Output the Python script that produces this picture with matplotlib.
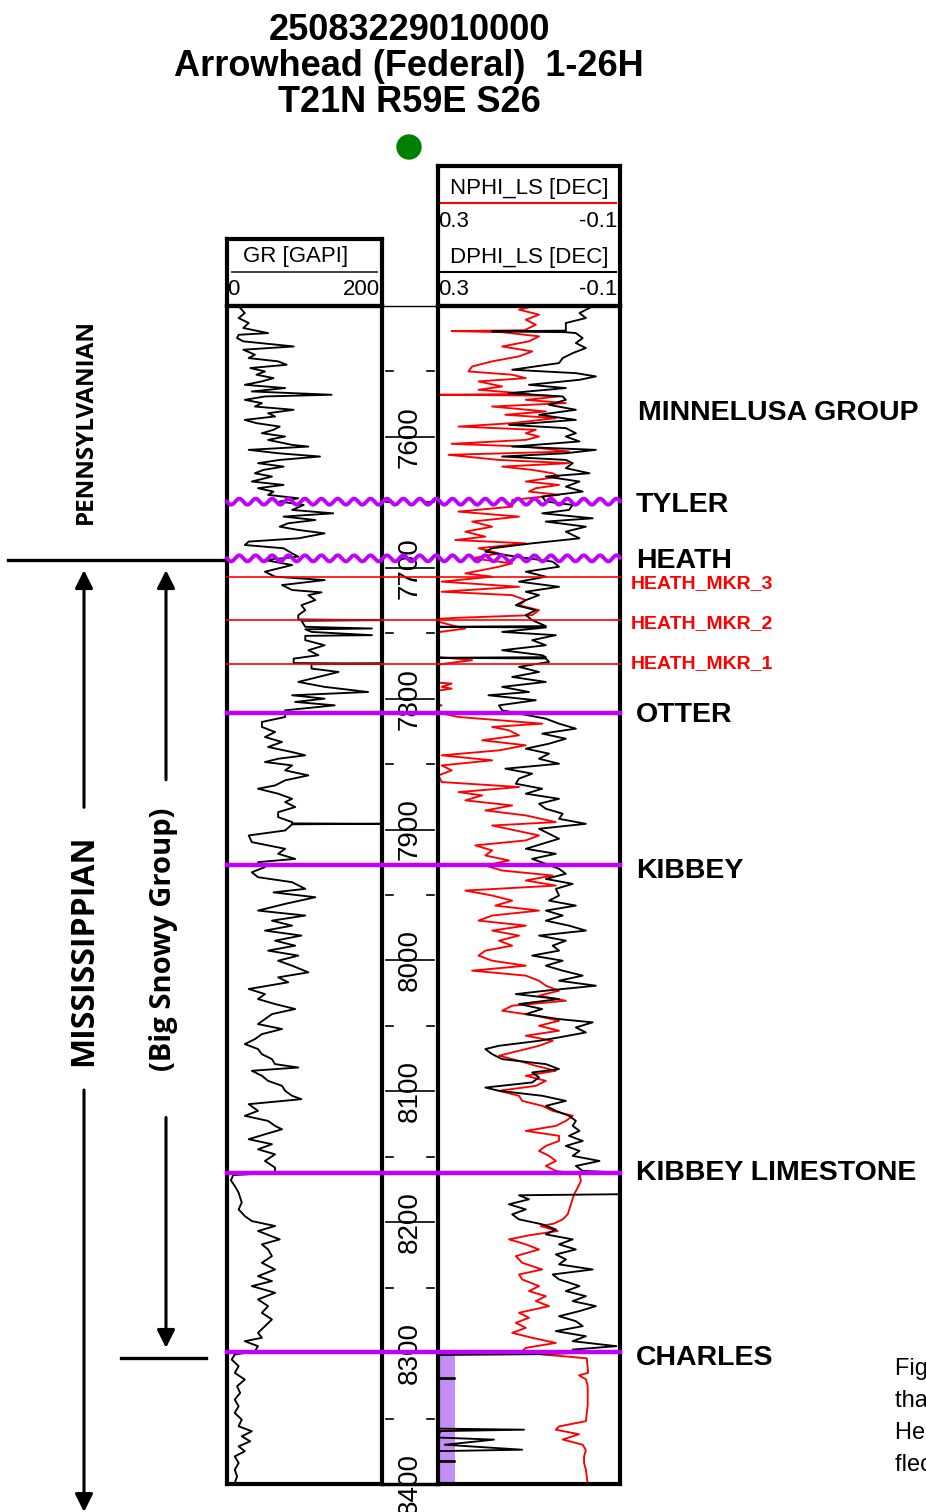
import numpy as np
import matplotlib
matplotlib.use("Agg")
import matplotlib.pyplot as plt
from matplotlib.patches import Ellipse

plt.rcParams['font.family'] = ['Liberation Sans', 'DejaVu Sans']

W, H = 926, 1512  # figure size in pixels

# well header
API_NO = "25083229010000"
WELL_NAME = "Arrowhead (Federal)  1-26H"
LOCATION = "T21N R59E S26"

TOP_DEPTH, BASE_DEPTH = 7500, 8400
GR_SCALE = (0, 200)
PHI_SCALE = (0.3, -0.1)

# formation tops (ft MD)
TOP_NAMES = ["TYLER", "HEATH", "HEATH_MKR_3", "HEATH_MKR_2", "HEATH_MKR_1",
             "OTTER", "KIBBEY", "KIBBEY LIMESTONE", "CHARLES"]
TOP_DEPTHS = [7649.5, 7692.8, 7706.8, 7740.0, 7773.5, 7810.7, 7927.3, 8162.6, 8299.0]
TOP_KIND = ["unconf", "unconf", "marker", "marker", "marker", "top", "top", "top", "top"]
ZONE_LABEL = ("MINNELUSA GROUP", 7582)

# gamma ray (depth ft, API)
GR_LOG = [
    (7501.5, 17), (7505.4, 23), (7509.2, 15), (7513, 28), (7516.8, 21), (7520.7, 53), (7522, 15),
    (7524.5, 13), (7527, 21), (7530.9, 86), (7533.4, 21), (7537.2, 36), (7539.8, 28), (7542.3, 66),
    (7544.9, 77), (7547.4, 30), (7550, 49), (7552.5, 38), (7555.1, 60), (7557.6, 45), (7560.2, 23),
    (7562.7, 75), (7565.3, 32), (7567.8, 135), (7569.1, 49), (7571.7, 23), (7574.2, 45), (7576.8, 36),
    (7579.3, 86), (7581.9, 53), (7584.4, 62), (7587, 23), (7589.5, 38), (7592.1, 68), (7594.6, 60),
    (7597.2, 45), (7599.7, 75), (7602.3, 53), (7606.1, 84), (7607.4, 105), (7609.9, 28), (7612.5, 66),
    (7615, 120), (7617.6, 68), (7620.1, 40), (7622.7, 73), (7625.2, 47), (7627.8, 36), (7630.3, 58),
    (7634.1, 32), (7636.7, 73), (7639.2, 40), (7641.8, 60), (7644.3, 53), (7646.9, 92), (7649.4, 68),
    (7652, 99), (7655.8, 84), (7658.4, 137), (7660.9, 73), (7663.5, 114), (7666, 79), (7668.6, 68),
    (7671.1, 92), (7673.7, 126), (7677.5, 92), (7680, 28), (7682.6, 23), (7685.1, 73), (7689, 84),
    (7691.5, 92), (7694.1, 49), (7697.9, 84), (7703, 49), (7706.8, 62), (7709.4, 126), (7713.2, 71),
    (7717, 84), (7718.8, 122), (7720.9, 105), (7724.7, 114), (7728.6, 96), (7732.4, 101), (7736.2, 92),
    (7739.5, 92), (7740, 197), (7740.5, 96), (7745.1, 101), (7746.4, 187), (7747, 101), (7749, 109),
    (7751.5, 187), (7752, 101), (7755.3, 101), (7759.2, 126), (7763, 105), (7766.8, 118), (7769.4, 86),
    (7772.8, 86), (7773.2, 197), (7773.7, 109), (7777, 109), (7779.6, 144), (7783.4, 118), (7787.2, 92),
    (7791, 126), (7794.9, 182), (7797.4, 84), (7800, 126), (7802.5, 88), (7805.1, 139), (7808.9, 75),
    (7814, 75), (7817.8, 45), (7821.6, 45), (7825.5, 62), (7829.3, 49), (7833.1, 71), (7836.9, 53),
    (7840.8, 84), (7843.3, 101), (7845.9, 66), (7848.4, 49), (7851, 84), (7854.8, 75), (7858.6, 105),
    (7862.4, 75), (7866.3, 62), (7868.8, 40), (7872.6, 66), (7876.5, 84), (7879, 75), (7882.8, 88),
    (7886.7, 66), (7890.5, 66), (7894.3, 84), (7895.3, 84), (7895.6, 197), (7896, 84), (7900.7, 75),
    (7904.5, 28), (7909.6, 32), (7914.7, 75), (7918.5, 66), (7922.4, 88), (7924.9, 40), (7928.7, 49),
    (7932.6, 32), (7936.4, 40), (7940.2, 84), (7945.3, 101), (7948, 60), (7951.7, 114), (7956.8, 75),
    (7961.9, 40), (7965.7, 101), (7969.6, 58), (7973.4, 84), (7977.2, 49), (7981, 96), (7984.9, 62),
    (7988.7, 88), (7992.5, 53), (7996.3, 92), (8000.2, 66), (8004, 84), (8009.1, 105), (8012.9, 66),
    (8016.7, 79), (8021.8, 28), (8025.7, 49), (8029.5, 40), (8033.3, 62), (8037.1, 88), (8041, 58),
    (8044.8, 49), (8048.6, 40), (8052.4, 71), (8056.3, 45), (8060.1, 36), (8063.9, 23), (8067.7, 40),
    (8071.6, 45), (8075.4, 58), (8079.2, 62), (8081.8, 92), (8084.3, 32), (8088.1, 45), (8092, 53),
    (8095.8, 71), (8099.6, 75), (8103.4, 84), (8106, 96), (8109.8, 28), (8114.9, 40), (8118.7, 23),
    (8122.6, 53), (8126.4, 62), (8129, 71), (8132.8, 49), (8136.6, 28), (8140.4, 58), (8144.3, 40),
    (8148.1, 62), (8153.2, 49), (8158.3, 62), (8162.1, 62), (8164, 8), (8168, 5), (8172.3, 10),
    (8177.4, 15), (8185, 19), (8190.2, 15), (8195.3, 23), (8199.1, 32), (8202.9, 62), (8206.7, 40),
    (8213.1, 68), (8216.9, 45), (8220.8, 53), (8225.9, 58), (8231, 45), (8236.1, 62), (8241.2, 40),
    (8245, 58), (8248.8, 32), (8253.9, 62), (8259, 40), (8264.1, 53), (8269.2, 45), (8274.3, 58),
    (8279.4, 49), (8284.5, 40), (8288.3, 45), (8290.9, 23), (8294.7, 40), (8298.5, 36), (8301.1, 10),
    (8304.9, 6), (8310, 15), (8315.1, 10), (8320.2, 23), (8325.3, 13), (8330.4, 17), (8335.5, 10),
    (8340.6, 15), (8345.7, 10), (8350.8, 19), (8355.9, 15), (8359.7, 32), (8363.6, 19), (8367.4, 30),
    (8371.2, 15), (8375, 23), (8378.9, 10), (8384, 15), (8389.1, 10), (8394.2, 13), (8399.2, 10),
]

# density porosity, limestone matrix (depth ft, v/v)
DPHI_LOG = [
    (7501.5, -0.033), (7505.4, -0.011), (7509.2, -0.025), (7513, 0.019), (7518.8, 0.019), (7519.4, 0.181),
    (7520, 0.02), (7520.7, -0.003), (7524.5, -0.018), (7528.3, -0.003), (7532.1, -0.025), (7536, 0.004),
    (7539.8, 0.026), (7543.6, 0.034), (7548.7, 0.137), (7551.3, -0.003), (7553.8, -0.047), (7556.4, -0.011),
    (7560.2, 0.100), (7562.7, 0.019), (7566.6, 0.144), (7569.1, 0.026), (7571.7, 0.019), (7575.5, 0.056),
    (7579.3, -0.003), (7583.1, 0.078), (7587, -0.003), (7590.8, 0.144), (7593.3, 0.019), (7597.2, -0.003),
    (7599.7, 0.019), (7603.5, -0.011), (7607.4, 0.137), (7609.9, -0.047), (7612.5, 0.019), (7615, 0.159),
    (7617.6, 0.019), (7620.1, 0.004), (7623.9, 0.019), (7627.8, -0.033), (7630.3, 0.063), (7634.1, -0.011),
    (7638, 0.019), (7641.8, -0.018), (7645.6, 0.071), (7649.4, 0.063), (7652, 0.004), (7655.8, 0.012),
    (7658.4, 0.071), (7662.2, -0.040), (7664.7, 0.063), (7668.6, -0.025), (7672.4, 0.019), (7677.5, -0.011),
    (7681.3, 0.093), (7685.1, 0.181), (7687.7, 0.196), (7691.5, 0.129), (7695.3, 0.048), (7699.2, 0.034),
    (7703, 0.107), (7706.8, 0.063), (7710.6, 0.122), (7714.5, 0.034), (7718.3, 0.107), (7720.9, 0.078),
    (7724.7, 0.107), (7728.6, 0.129), (7732.4, 0.085), (7736.2, 0.107), (7740, 0.093), (7744.6, 0.063),
    (7745.1, 0.32), (7745.6, 0.063), (7749, 0.159), (7751.5, 0.041), (7755.3, 0.093), (7759.2, 0.063),
    (7763, 0.159), (7766.8, 0.071), (7768.3, 0.063), (7768.8, 0.32), (7769.3, 0.063), (7771.9, 0.056),
    (7775.7, 0.122), (7779.6, 0.078), (7783.4, 0.137), (7787.2, 0.063), (7791, 0.159), (7794.9, 0.100),
    (7797.4, 0.189), (7801.2, 0.085), (7805.1, 0.166), (7808.9, 0.159), (7815.3, 0.063), (7819.1, 0.034),
    (7822.9, -0.003), (7826.7, 0.071), (7830.6, 0.019), (7834.4, 0.056), (7838.2, 0.107), (7842, 0.056),
    (7845.9, 0.078), (7849.7, 0.034), (7853.5, 0.152), (7857.3, 0.093), (7861.1, 0.122), (7865, 0.129),
    (7868.8, 0.071), (7872.6, 0.107), (7876.5, 0.034), (7880.3, 0.078), (7884.1, 0.063), (7887.9, 0.026),
    (7891.8, 0.034), (7895.6, -0.025), (7899.4, 0.078), (7903.2, 0.056), (7907, 0.034), (7910.9, 0.071),
    (7914.7, 0.107), (7918.5, 0.041), (7922.4, 0.093), (7926.2, 0.063), (7930, 0.034), (7933.8, 0.019),
    (7937.7, 0.063), (7941.5, 0.004), (7945.3, 0.041), (7950.4, 0.034), (7954.3, 0.056), (7958.1, -0.003),
    (7961.9, 0.063), (7965.7, 0.026), (7969.6, 0.063), (7973.4, 0.012), (7977.2, -0.025), (7981, 0.078),
    (7984.9, 0.019), (7988.7, 0.048), (7992.5, 0.034), (7996.3, 0.093), (8000.2, 0.026), (8004, 0.063),
    (8007.8, 0.026), (8011.6, -0.018), (8015.5, 0.034), (8019.3, -0.047), (8023.1, 0.063), (8025.7, 0.129),
    (8029.5, 0.034), (8033.3, 0.122), (8037.1, 0.071), (8041, 0.107), (8044.8, 0.034), (8047.3, -0.040),
    (8051.2, -0.003), (8055, -0.025), (8058.8, 0.034), (8061.4, 0.078), (8065.2, 0.166), (8067.7, 0.196),
    (8071.6, 0.181), (8075.4, 0.159), (8079.2, 0.063), (8083, 0.034), (8085.6, 0.093), (8089.4, 0.078),
    (8093.2, 0.093), (8097.1, 0.196), (8099.6, 0.166), (8103.4, 0.071), (8107.3, 0.019), (8111.1, 0.063),
    (8114.9, 0.041), (8118.7, 0.012), (8122.6, -0.003), (8126.4, 0.004), (8130.2, -0.011), (8134, 0.012),
    (8137.9, -0.018), (8141.7, 0.019), (8145.5, -0.011), (8149.3, 0.004), (8153.2, -0.055), (8157, -0.003),
    (8160.8, -0.018), (8162.5, -0.13), (8178.5, -0.13), (8179.4, 0.122), (8182.5, 0.100), (8186.3, 0.144),
    (8190.2, 0.107), (8194, 0.137), (8197.8, 0.122), (8201.6, 0.071), (8205.5, 0.041), (8209.3, 0.063),
    (8213.1, 0.004), (8216.9, 0.034), (8220.8, -0.003), (8224.6, 0.041), (8228.4, 0.019), (8232.2, 0.034),
    (8236.1, -0.040), (8239.9, 0.048), (8243.7, 0.034), (8248.8, -0.011), (8252.6, 0.019), (8256.5, -0.025),
    (8260.3, 0.004), (8264.1, -0.047), (8267.9, -0.011), (8271.8, 0.034), (8275.6, -0.003), (8279.4, -0.018),
    (8283.2, 0.041), (8287.1, -0.025), (8290.9, 0.004), (8294.7, -0.092), (8297.3, 0.004), (8299.8, -0.011),
    (8300.8, 0.08), (8301.5, 0.32), (8319, 0.32), (8319.4, 0.262), (8319.8, 0.32), (8357.6, 0.32),
    (8358.5, 0.111), (8359.6, 0.295), (8364.5, 0.30), (8366.1, 0.177), (8370, 0.285), (8373.8, 0.115),
    (8375, 0.32), (8382.4, 0.32), (8382.8, 0.262), (8383.2, 0.32), (8400, 0.32),
]

# neutron porosity, limestone matrix (depth ft, v/v)
NPHI_LOG = [
    (7500.3, 0.093), (7502.8, 0.122), (7506.6, 0.078), (7510.5, 0.107), (7514.3, 0.085), (7518.5, 0.11),
    (7519.2, 0.27), (7520, 0.159), (7523.2, 0.078), (7527, 0.100), (7530.9, 0.159), (7534.7, 0.093),
    (7538.5, 0.122), (7542.3, 0.181), (7546.2, 0.225), (7550, 0.233), (7552.5, 0.137), (7555.1, 0.107),
    (7557.6, 0.211), (7561.5, 0.159), (7564, 0.211), (7567.2, 0.10), (7567.8, 0.299), (7568.5, 0.063),
    (7569.1, 0.034), (7571.7, 0.107), (7574.2, 0.019), (7576.8, 0.181), (7580.6, 0.063), (7583.1, 0.152),
    (7585.7, 0.041), (7589.5, 0.137), (7592.1, 0.255), (7594.6, 0.085), (7597.2, 0.107), (7599.7, 0.078),
    (7602.3, 0.107), (7605.3, 0.270), (7607.4, 0.107), (7611.2, 0.012), (7613.7, 0.277), (7617.6, 0.166),
    (7620.1, 0.012), (7622.7, 0.159), (7625.2, 0.093), (7627.8, 0.048), (7630.3, 0.034), (7634.1, 0.107),
    (7636.7, 0.034), (7639.2, 0.085), (7641.8, 0.100), (7644.3, 0.034), (7648.2, 0.137), (7653.3, 0.137),
    (7657.1, 0.255), (7660.9, 0.122), (7664.7, 0.225), (7668.6, 0.181), (7672.4, 0.240), (7676.2, 0.196),
    (7678.8, 0.262), (7681.3, 0.107), (7685.1, 0.211), (7689, 0.166), (7692.8, 0.225), (7696.6, 0.137),
    (7699.2, 0.166), (7704.3, 0.240), (7706.8, 0.181), (7710.6, 0.292), (7714.5, 0.122), (7718.3, 0.292),
    (7720.9, 0.137), (7724.7, 0.107), (7728.6, 0.122), (7732.4, 0.078), (7736.2, 0.093), (7738.2, 0.255),
    (7739.3, 0.32), (7743.9, 0.27), (7746.4, 0.240), (7749, 0.295), (7751, 0.32), (7767.5, 0.32),
    (7770.6, 0.225), (7773.2, 0.284), (7775.7, 0.32), (7787.2, 0.32), (7788.5, 0.270), (7791, 0.292),
    (7792.3, 0.270), (7794.9, 0.32), (7802.5, 0.32), (7805.1, 0.292), (7807.6, 0.32), (7811.4, 0.29),
    (7814, 0.255), (7816.5, 0.166), (7819.1, 0.071), (7821.6, 0.181), (7824.2, 0.144), (7828, 0.122),
    (7831.8, 0.203), (7835.6, 0.107), (7839.5, 0.166), (7843.3, 0.292), (7847.1, 0.181), (7851, 0.292),
    (7854.8, 0.270), (7858.6, 0.299), (7863.7, 0.292), (7867.5, 0.122), (7871.4, 0.255), (7873.9, 0.203),
    (7877.7, 0.240), (7881.6, 0.137), (7885.4, 0.196), (7889.2, 0.107), (7894.3, 0.041), (7896.9, 0.181),
    (7900.7, 0.129), (7904.5, 0.078), (7908.3, 0.107), (7912.1, 0.218), (7916, 0.181), (7919.8, 0.196),
    (7923.6, 0.144), (7927.5, 0.196), (7931.3, 0.159), (7935.1, 0.048), (7938.9, 0.107), (7942.8, 0.041),
    (7946.6, 0.240), (7950.4, 0.181), (7954.3, 0.137), (7958.1, 0.174), (7961.9, 0.078), (7965.7, 0.181),
    (7969.6, 0.211), (7973.4, 0.107), (7977.2, 0.181), (7981, 0.122), (7984.9, 0.166), (7988.7, 0.137),
    (7992.5, 0.196), (7996.3, 0.211), (8000.2, 0.181), (8004, 0.107), (8007.8, 0.225), (8011.6, 0.107),
    (8015.5, 0.078), (8019.3, 0.063), (8023.1, 0.034), (8026.9, 0.078), (8030.8, 0.019), (8034.6, 0.137),
    (8038.4, 0.159), (8042.2, 0.085), (8046.1, 0.034), (8049.9, 0.078), (8053.7, 0.034), (8057.5, 0.107),
    (8061.4, 0.048), (8065.2, 0.078), (8069, 0.122), (8072.8, 0.166), (8076.7, 0.122), (8080.5, 0.085),
    (8084.3, 0.041), (8088.1, 0.107), (8092, 0.063), (8095.8, 0.085), (8099.6, 0.166), (8103.4, 0.122),
    (8107.3, 0.115), (8111.1, 0.071), (8114.9, 0.048), (8118.7, 0.004), (8122.6, 0.019), (8126.4, 0.041),
    (8130.2, 0.107), (8134, 0.034), (8137.9, 0.034), (8141.7, 0.063), (8145.5, 0.078), (8149.3, 0.056),
    (8153.2, 0.041), (8157, 0.063), (8160.8, 0.041), (8163.4, -0.011), (8168.5, -0.014), (8173.6, -0.007),
    (8178.7, 0.001), (8186.3, 0.008), (8194, 0.015), (8197.8, 0.026), (8201, 0.045), (8203, 0.074),
    (8206.7, 0.037), (8210, 0.10), (8213.1, 0.144), (8216.9, 0.107), (8220.8, 0.078), (8225.9, 0.129),
    (8231, 0.115), (8236.1, 0.071), (8239.9, 0.122), (8243.7, 0.115), (8248.8, 0.078), (8252.6, 0.100),
    (8256.5, 0.063), (8260.3, 0.085), (8264.1, 0.056), (8269.2, 0.122), (8273, 0.100), (8276.9, 0.129),
    (8280.7, 0.107), (8284.5, 0.137), (8288.3, 0.093), (8292.2, 0.041), (8296, 0.107), (8298.5, 0.115),
    (8301.1, 0.071), (8302.5, 0.02), (8304, -0.027), (8315, -0.030), (8317, -0.01), (8320, -0.025),
    (8325, -0.029), (8340, -0.029), (8352, -0.025), (8356, 0.034), (8358.5, 0.041), (8362, -0.010),
    (8366, 0.026), (8370, -0.018), (8374, -0.025), (8379, -0.021), (8384, -0.021), (8389, -0.025),
    (8400, -0.029),
]

PURPLE = '#bf00ff'
FLAG = '#c48ef6'


def box(x0, x1, y0, y1):
    # pixel rectangle -> figure fraction [left, bottom, width, height]
    return [x0 / W, 1 - y1 / H, (x1 - x0) / W, (y1 - y0) / H]


def frame(ax, lw=3):
    ax.set_xticks([])
    ax.set_yticks([])
    ax.patch.set_alpha(0)
    for s in ax.spines.values():
        s.set_linewidth(lw)


gr_d, gr_v = np.array(GR_LOG).T
dp_d, dp_v = np.array(DPHI_LOG).T
np_d, np_v = np.array(NPHI_LOG).T

fig = plt.figure(figsize=(W / 100, H / 100), dpi=100)

T0, T1 = 306, 1484
GRX = (227, 382)
DEPX = (382, 438)
PHIX = (438, 620)
CURVE_LW = 1.35

# --- depth track (added first so the neighbouring track borders sit on top)
ax_dep = fig.add_axes(box(DEPX[0], DEPX[1], T0, T1))
ax_dep.set_xlim(0, 1)
ax_dep.set_ylim(BASE_DEPTH, TOP_DEPTH)
frame(ax_dep)
ax_dep.spines['left'].set_visible(False)
ax_dep.spines['right'].set_visible(False)
ax_dep.spines['top'].set_linewidth(1)
ax_dep.spines['bottom'].set_linewidth(2.5)
for d in range(TOP_DEPTH + 50, BASE_DEPTH + 1, 50):
    if d % 100 == 0:
        ax_dep.plot([0.07, 0.93], [d, d], color='black', lw=1.2, clip_on=False)
        ax_dep.text(0.5, d, str(d), rotation=90, ha='center', va='center',
                    fontsize=20, clip_on=False)
    else:
        ax_dep.plot([0.07, 0.2], [d, d], color='black', lw=1.2)
        ax_dep.plot([0.8, 0.93], [d, d], color='black', lw=1.2)

# --- gamma ray track
ax_gr = fig.add_axes(box(GRX[0], GRX[1], T0, T1))
ax_gr.plot(gr_v, gr_d, color='black', lw=CURVE_LW)
ax_gr.set_xlim(*GR_SCALE)
ax_gr.set_ylim(BASE_DEPTH, TOP_DEPTH)
frame(ax_gr)

# --- porosity track
ax_phi = fig.add_axes(box(PHIX[0], PHIX[1], T0, T1))
charles = TOP_DEPTHS[TOP_NAMES.index("CHARLES")]
ax_phi.fill_betweenx([charles + 1.5, BASE_DEPTH], 0.3, 0.262, color=FLAG, lw=0)
ax_phi.plot(np_v, np_d, color='red', lw=CURVE_LW)
ax_phi.plot(dp_v, dp_d, color='black', lw=CURVE_LW)
ax_phi.set_xlim(*PHI_SCALE)
ax_phi.set_ylim(BASE_DEPTH, TOP_DEPTH)
frame(ax_phi)

# --- curve headers
hd_gr = fig.add_axes(box(GRX[0], GRX[1], 239, T0))
hd_gr.set_xlim(0, 1)
hd_gr.set_ylim(0, 1)
frame(hd_gr)
hd_gr.text(0.445, 0.74, "GR [GAPI]", ha='center', va='center', fontsize=16)
hd_gr.plot([0.03, 0.97], [0.507, 0.507], color='#333333', lw=1.3)
hd_gr.text(0.0, 0.25, f"{GR_SCALE[0]}", ha='left', va='center', fontsize=16)
hd_gr.text(0.99, 0.25, f"{GR_SCALE[1]}", ha='right', va='center', fontsize=16)

hd_phi = fig.add_axes(box(PHIX[0], PHIX[1], 166, T0))
hd_phi.set_xlim(0, 1)
hd_phi.set_ylim(0, 1)
frame(hd_phi)
for name, color, ty, ly, sy in [("NPHI_LS [DEC]", 'red', 0.836, 0.736, 0.607),
                                ("DPHI_LS [DEC]", 'black', 0.343, 0.243, 0.121)]:
    hd_phi.text(0.5, ty, name, ha='center', va='center', fontsize=16)
    hd_phi.plot([0.016, 0.978], [ly, ly], color=color, lw=1.5)
    hd_phi.text(0.0, sy, f"{PHI_SCALE[0]}", ha='left', va='center', fontsize=16)
    hd_phi.text(0.985, sy, f"{PHI_SCALE[1]}", ha='right', va='center', fontsize=16)

# --- title block and well symbol
for txt, y in [(API_NO, 30), (WELL_NAME, 67), (LOCATION, 103)]:
    fig.text(409 / W, 1 - y / H, txt, ha='center', va='center', fontsize=26, fontweight='bold')
fig.add_artist(Ellipse((409 / W, 1 - 147 / H), 24 / W, 24 / H,
                       transform=fig.transFigure, color='#008000'))

# --- overlay: x in pixels, y in depth
ov = fig.add_axes([0, 1 - T1 / H, 1, (T1 - T0) / H])
ov.set_xlim(0, W)
ov.set_ylim(BASE_DEPTH, TOP_DEPTH)
ov.set_axis_off()

px_per_ft = (T1 - T0) / (BASE_DEPTH - TOP_DEPTH)
xs = np.linspace(GRX[0], PHIX[1], 1200)
label_shift = {"TYLER": 2.5, "HEATH": 2, "HEATH_MKR_3": 5.5, "HEATH_MKR_2": 2.5,
               "HEATH_MKR_1": -0.5, "OTTER": 2, "KIBBEY": 4.5, "KIBBEY LIMESTONE": 0, "CHARLES": 5}
for name, d, kind in zip(TOP_NAMES, TOP_DEPTHS, TOP_KIND):
    if kind == "unconf":
        wave = d + (3 / px_per_ft) * np.sin(2 * np.pi * (xs - GRX[0]) / 16.4)
        ov.plot(xs, wave, color=PURPLE, lw=2.8, clip_on=False)
    elif kind == "marker":
        ov.plot([GRX[0], PHIX[1]], [d, d], color='red', lw=1.2)
    else:
        ov.plot([GRX[0], PHIX[1]], [d, d], color=PURPLE, lw=3.2)
    if kind == "marker":
        ov.text(631, d + label_shift[name], name, color='red', fontsize=14,
                fontweight='bold', ha='left', va='center', clip_on=False)
    else:
        ov.text(636, d + label_shift[name], name, color='black', fontsize=20.5,
                fontweight='bold', ha='left', va='center', clip_on=False)
ov.text(638, ZONE_LABEL[1], ZONE_LABEL[0], fontsize=20.5, fontweight='bold',
        ha='left', va='center', clip_on=False)

# --- system / group brackets on the left
heath = TOP_DEPTHS[TOP_NAMES.index("HEATH")]
td_tail = BASE_DEPTH + (H - T1) / px_per_ft
ov.plot([8, 223], [heath + 1, heath + 1], color='black', lw=2.4, clip_on=False)
ov.plot([121, 206], [charles + 4.5, charles + 4.5], color='black', lw=2.4, clip_on=False)

arrow = dict(arrowstyle='-|>,head_length=0.4,head_width=0.2', lw=2.2, color='black',
             mutation_scale=27, shrinkA=0, shrinkB=0)
side_font = ['Open Sans', 'DejaVu Sans']
ov.annotate('', xy=(84, heath + 9), xytext=(84, 7883), arrowprops=arrow, annotation_clip=False)
ov.annotate('', xy=(84, td_tail), xytext=(84, 8099), arrowprops=arrow, annotation_clip=False)
ov.annotate('', xy=(166, heath + 9), xytext=(166, 7862), arrowprops=arrow, annotation_clip=False)
ov.annotate('', xy=(166, charles - 3), xytext=(166, 8120), arrowprops=arrow, annotation_clip=False)

ov.text(86, 7588.5, "PENNSYLVANIAN", rotation=90, ha='center', va='center',
        fontsize=17.5, fontweight='bold', family=side_font, clip_on=False)
ov.text(84, 7992, "MISSISSIPPIAN", rotation=90, ha='center', va='center',
        fontsize=23, fontweight='bold', family=side_font, clip_on=False)
ov.text(163, 7984, "(Big Snowy Group)", rotation=90, ha='center', va='center',
        fontsize=21, fontweight='bold', family=side_font, clip_on=False)

# caption running off the right edge of the page
for txt, y in [("Figure 4. Type log", 1369), ("that shows the", 1401),
               ("Heath Formation", 1433), ("flecked by", 1465)]:
    fig.text(895 / W, 1 - y / H, txt, ha='left', va='center', fontsize=17)

fig.savefig('out.png', dpi=100)
